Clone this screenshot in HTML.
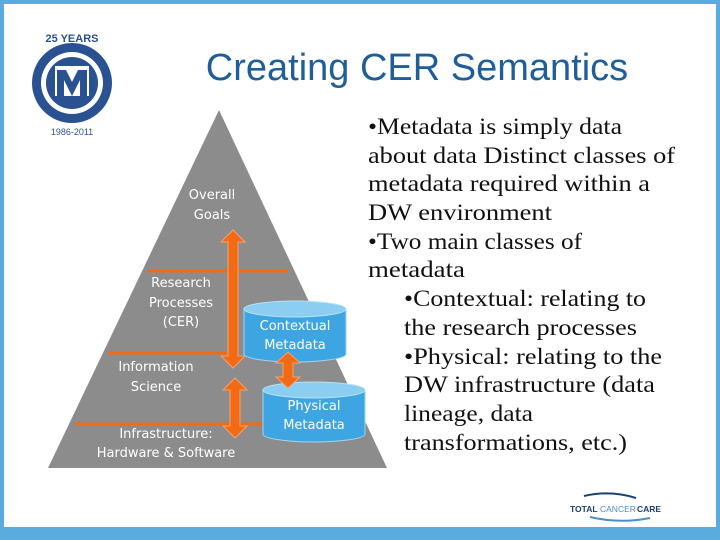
<!DOCTYPE html>
<html><head><meta charset="utf-8"><style>
html,body{margin:0;padding:0;width:720px;height:540px;overflow:hidden;background:#fff}
svg{position:absolute;left:0;top:0}
.t{font-family:"Liberation Serif",serif;font-size:23px;fill:#111}
.w{font-family:"DejaVu Sans","Liberation Sans",sans-serif;font-size:13px;fill:#fff;text-anchor:middle}
</style></head><body>
<svg width="720" height="540" viewBox="0 0 720 540">
<rect x="0" y="0" width="720" height="540" fill="#5aacdf"/>
<rect x="4" y="4" width="712" height="523" fill="#fff"/>
<!-- logo -->
<circle cx="72" cy="83" r="40" fill="#2a5291"/>
<circle cx="72" cy="83" r="31" fill="#fff"/>
<circle cx="72" cy="83" r="26" fill="#2a5291"/>
<rect x="55" y="66" width="34" height="30" fill="#fff"/>
<path d="M57 70 L66 70 L72 82 L78 70 L87 70 L87 100 L80 108 L80 80 L72 96 L64 80 L64 108 L57 100Z" fill="#2a5291"/>
<text x="72" y="42" font-family="Liberation Sans,sans-serif" font-size="11" font-weight="bold" fill="#2a5291" text-anchor="middle">25 YEARS</text>
<text x="72" y="135" font-family="Liberation Sans,sans-serif" font-size="9" fill="#2a5291" text-anchor="middle">1986-2011</text>
<text x="417" y="80" font-family="Liberation Sans,sans-serif" font-size="38" fill="#1f5e99" text-anchor="middle">Creating CER Semantics</text>
<!-- pyramid -->
<polygon points="219,110 48,468 387,468" fill="#8c8c8c"/>
<line x1="148" y1="271" x2="288" y2="271" stroke="#f26b14" stroke-width="3"/>
<line x1="108" y1="353" x2="235" y2="353" stroke="#f26b14" stroke-width="3"/>
<line x1="75" y1="424" x2="265" y2="424" stroke="#f26b14" stroke-width="3"/>
<!-- arrows -->
<path d="M233,230 L245,242 L238,242 L238,356 L245,356 L233,368 L221,356 L228,356 L228,242 L221,242Z" fill="#f26b14" stroke="#f8a070" stroke-width="1"/>
<path d="M235,378 L247,390 L240,390 L240,426 L247,426 L235,438 L223,426 L230,426 L230,390 L223,390Z" fill="#f26b14" stroke="#f8a070" stroke-width="1"/>
<!-- cylinders -->
<path d="M244,309 L244,354 A51,8 0 0 0 346,354 L346,309Z" fill="#3da6e2" stroke="#9fd4f2" stroke-width="1"/>
<ellipse cx="295" cy="309" rx="51" ry="8" fill="#8ccdf2" stroke="#b8e2f7"/>
<path d="M263,390 L263,434 A51,8 0 0 0 365,434 L365,390Z" fill="#3da6e2" stroke="#9fd4f2" stroke-width="1"/>
<ellipse cx="314" cy="390" rx="51" ry="8" fill="#8ccdf2" stroke="#b8e2f7"/>
<path d="M288,352 L300,363 L293,363 L293,377 L300,377 L288,388 L276,377 L283,377 L283,363 L276,363Z" fill="#f26b14" stroke="#f8a070" stroke-width="1"/>
<!-- labels -->
<text class="w" x="212" y="199">Overall</text><text class="w" x="212" y="219">Goals</text>
<text class="w" x="181" y="287">Research</text><text class="w" x="181" y="307">Processes</text><text class="w" x="181" y="326">(CER)</text>
<text class="w" x="156" y="371">Information</text><text class="w" x="156" y="391">Science</text>
<text class="w" x="166" y="438">Infrastructure:</text><text class="w" x="166" y="457">Hardware &amp; Software</text>
<text class="w" x="295" y="330">Contextual</text><text class="w" x="295" y="349">Metadata</text>
<text class="w" x="314" y="410">Physical</text><text class="w" x="314" y="429">Metadata</text>
<!-- text -->
<g lengthAdjust="spacingAndGlyphs">
<text class="t" x="368" y="134" textLength="254" lengthAdjust="spacingAndGlyphs">•Metadata is simply data</text>
<text class="t" x="368" y="163" textLength="307" lengthAdjust="spacingAndGlyphs">about data  Distinct classes of</text>
<text class="t" x="368" y="191" textLength="282" lengthAdjust="spacingAndGlyphs">metadata required within a</text>
<text class="t" x="368" y="220" textLength="184" lengthAdjust="spacingAndGlyphs">DW environment</text>
<text class="t" x="368" y="249" textLength="214" lengthAdjust="spacingAndGlyphs">•Two main classes of</text>
<text class="t" x="368" y="277" textLength="97" lengthAdjust="spacingAndGlyphs">metadata</text>
<text class="t" x="404" y="306" textLength="242" lengthAdjust="spacingAndGlyphs">•Contextual: relating to</text>
<text class="t" x="404" y="335" textLength="233" lengthAdjust="spacingAndGlyphs">the research processes</text>
<text class="t" x="404" y="364" textLength="258" lengthAdjust="spacingAndGlyphs">•Physical:  relating to the</text>
<text class="t" x="404" y="392" textLength="251" lengthAdjust="spacingAndGlyphs">DW infrastructure (data</text>
<text class="t" x="404" y="421" textLength="129" lengthAdjust="spacingAndGlyphs">lineage, data</text>
<text class="t" x="404" y="450" textLength="223" lengthAdjust="spacingAndGlyphs">transformations, etc.)</text>
</g>
<!-- TCC logo -->
<path d="M584,496 Q610,490 636,498" stroke="#1d3f6e" stroke-width="2" fill="none"/>
<text x="570" y="512" font-family="Liberation Sans,sans-serif" font-size="8.5" font-weight="bold" fill="#1d3f6e">TOTAL</text>
<text x="600" y="512" font-family="Liberation Sans,sans-serif" font-size="8.5" fill="#4a8fc8">CANCER</text>
<text x="637" y="512" font-family="Liberation Sans,sans-serif" font-size="8.5" font-weight="bold" fill="#1d3f6e">CARE</text>
<path d="M590,517 Q620,524 650,518" stroke="#4a8fc8" stroke-width="2" fill="none"/>
</svg>
</body></html>
